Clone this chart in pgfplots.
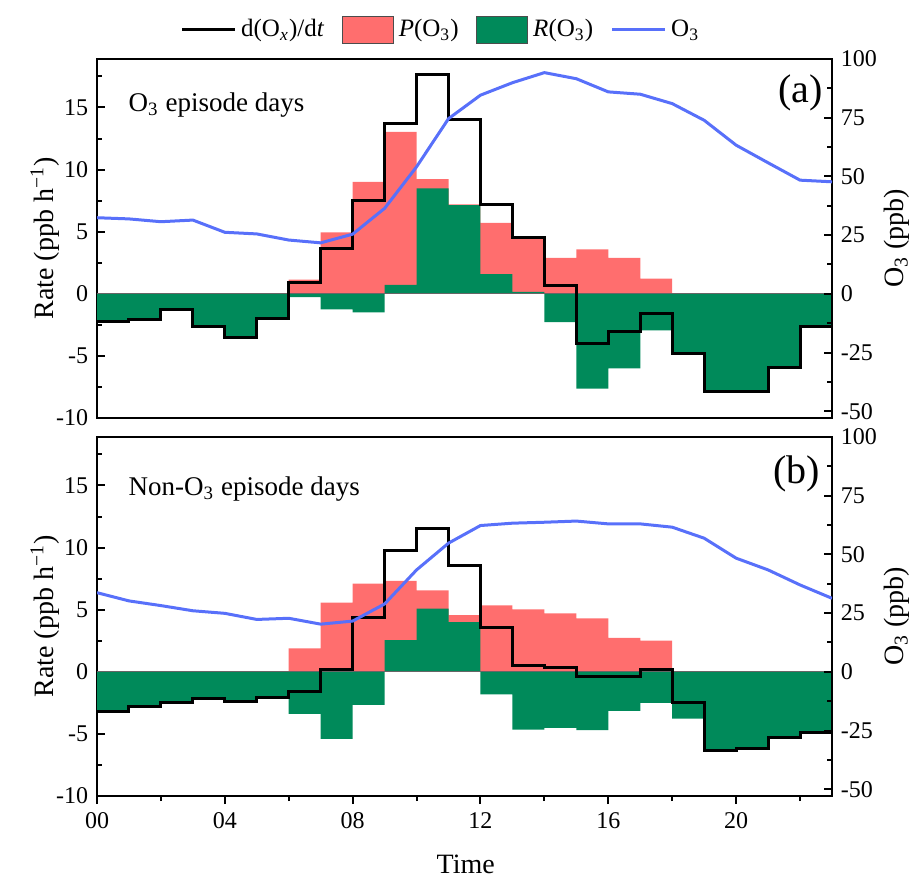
\documentclass[border=0pt]{standalone}
\usepackage{fontspec}
\setmainfont{Liberation Serif}
\usepackage{pgfplots}
\usepackage{pgfplotstable}
\pgfplotsset{compat=1.18}
\definecolor{pred}{RGB}{255,110,110}
\definecolor{rgreen}{RGB}{0,138,90}
\definecolor{oblue}{RGB}{88,112,250}

% h  D(dOx/dt)  P  R  O3   (last row only closes the intervals)
\pgfplotstableread{
h D P R O
0 -2.23 0 -2.23 32.4
1 -2.09 0 -2.09 31.9
2 -1.29 0 -1.29 30.7
3 -2.60 0 -2.60 31.4
4 -3.51 0 -3.51 26.2
5 -1.96 0 -1.96 25.5
6 0.91 1.15 -0.27 22.9
7 3.65 4.95 -1.26 21.7
8 7.49 9.00 -1.50 25.4
9 13.68 13.03 0.72 36.4
10 17.68 9.23 8.48 54.1
11 14.06 7.20 7.13 74.6
12 7.22 5.70 1.58 84.6
13 4.50 4.45 0.15 89.9
14 0.70 2.90 -2.28 94.2
15 -4.02 3.57 -7.64 91.6
16 -3.00 2.90 -6.00 86.0
17 -1.61 1.23 -2.95 85.0
18 -4.83 0 -4.83 81.0
19 -7.83 0 -7.83 73.9
20 -7.83 0 -7.83 63.3
21 -5.90 0 -5.90 55.8
22 -2.60 0 -2.60 48.4
23 -2.60 0 -2.60 47.7
}\dataA

\pgfplotstableread{
h D P R O
0 -3.17 0 -3.17 33.7
1 -2.77 0 -2.77 30.2
2 -2.50 0 -2.50 28.2
3 -2.18 0 -2.18 26.0
4 -2.37 0 -2.37 24.9
5 -2.04 0 -2.04 22.3
6 -1.56 1.88 -3.39 22.8
7 0.19 5.56 -5.40 20.3
8 4.41 7.10 -2.66 21.6
9 9.78 7.31 2.55 28.9
10 11.56 6.56 5.08 43.4
11 8.52 4.57 4.00 54.8
12 3.58 5.35 -1.82 62.3
13 0.48 5.03 -4.65 63.3
14 0.35 4.70 -4.52 63.7
15 -0.35 4.30 -4.70 64.2
16 -0.35 2.74 -3.15 63.0
17 0.19 2.50 -2.50 63.0
18 -2.50 0 -3.76 61.6
19 -6.37 0 -6.37 56.9
20 -6.18 0 -6.18 48.4
21 -5.30 0 -5.30 43.4
22 -4.89 0 -4.89 37.0
23 -4.89 0 -4.89 31.3
}\dataB

\pgfplotsset{
  base/.style={scale only axis, width=294pt, height=143.6pt, xmin=0, xmax=23,
    axis line style={line width=0.8pt},
    every tick/.style={black, line width=0.8pt},
    major tick length=3.2pt, minor tick length=2pt,
    tick label style={font=\fontsize{9.6}{11}\selectfont},
    label style={font=\fontsize{11.2}{13}\selectfont},
    /pgf/number format/assume math mode=true},
  leftax/.style={base, ymin=-10, ymax=18.9,
    ytick={-10,-5,0,5,10,15}, yticklabels={-10,-5,0,5,10,15},
    minor ytick={-7.5,-2.5,2.5,7.5,12.5,17.5},
    ytick pos=left, ytick align=inside,
    ylabel={Rate (ppb h\textsuperscript{−1})},
    ylabel style={at={(axis description cs:-0.071,0.5)}, anchor=center}},
  rightax/.style={base, ymin=-52.9, ymax=100,
    axis y line*=right, hide x axis,
    ytick={-50,-25,0,25,50,75,100}, yticklabels={-50,-25,0,25,50,75,100},
    minor ytick={-37.5,-12.5,12.5,37.5,62.5,87.5},
    ytick align=inside,
    ylabel={O\textsubscript{3} (ppb)},
    ylabel style={at={(axis description cs:1.088,0.5)}, anchor=center}},
}

\begin{document}
\begin{tikzpicture}
% ---------------- panel (a) ----------------
\begin{axis}[leftax, at={(0pt,0pt)}, anchor=north west, xtick=\empty,
  legend style={at={(axis description cs:0.47,1.081)}, anchor=center, draw=none, fill=none,
    font=\fontsize{10}{12}\selectfont, legend columns=4,
    /tikz/every even column/.append style={column sep=5pt}},
  legend cell align=left]
\addlegendimage{legend image code/.code={\draw[black,line width=1.2pt](0pt,0pt)--(21pt,0pt);}}
\addlegendimage{legend image code/.code={\draw[fill=pred,draw=black!70,line width=0.4pt](0pt,-5.4pt) rectangle (20.4pt,5.4pt);}}
\addlegendimage{legend image code/.code={\draw[fill=rgreen,draw=black!70,line width=0.4pt](0pt,-5.4pt) rectangle (20.4pt,5.4pt);}}
\addlegendimage{legend image code/.code={\draw[oblue,line width=1.2pt](0pt,0pt)--(21pt,0pt);}}
\legend{d(O\textsubscript{\textit{x}})/d\textit{t}, \textit{P}(O\textsubscript{3}), \textit{R}(O\textsubscript{3}), O\textsubscript{3}}
\addplot[ybar interval, fill=pred, draw=none] table[x=h, y=P] {\dataA};
\addplot[ybar interval, fill=rgreen, draw=none] table[x=h, y=R] {\dataA};
\addplot[black!60, line width=0.4pt] coordinates {(0,0) (23,0)};
\addplot[const plot, black, line width=1.2pt] table[x=h, y=D] {\dataA};
\node[anchor=west, font=\fontsize{10.8}{13}\selectfont] at (rel axis cs:0.031,0.873) {O\textsubscript{3} episode days};
\node[font=\fontsize{16}{19}\selectfont] at (rel axis cs:0.957,0.907) {(a)};
\end{axis}
\begin{axis}[rightax, at={(0pt,0pt)}, anchor=north west]
\addplot[oblue, line width=1.2pt] table[x=h, y=O] {\dataA};
\end{axis}

% ---------------- panel (b) ----------------
\begin{axis}[leftax, at={(0pt,-151.2pt)}, anchor=north west,
  xtick={0,4,8,12,16,20}, xticklabels={00,04,08,12,16,20},
  minor xtick={2,6,10,14,18,22}, xtick pos=bottom, xtick align=outside,
  xlabel={Time},
  xlabel style={at={(axis description cs:0.5016,-0.189)}, anchor=center}]
\addplot[ybar interval, fill=pred, draw=none] table[x=h, y=P] {\dataB};
\addplot[ybar interval, fill=rgreen, draw=none] table[x=h, y=R] {\dataB};
\addplot[black!60, line width=0.4pt] coordinates {(0,0) (23,0)};
\addplot[const plot, black, line width=1.2pt] table[x=h, y=D] {\dataB};
\node[anchor=west, font=\fontsize{10.8}{13}\selectfont] at (rel axis cs:0.031,0.856) {Non-O\textsubscript{3} episode days};
\node[font=\fontsize{16}{19}\selectfont] at (rel axis cs:0.952,0.898) {(b)};
\end{axis}
\begin{axis}[rightax, at={(0pt,-151.2pt)}, anchor=north west]
\addplot[oblue, line width=1.2pt] table[x=h, y=O] {\dataB};
\end{axis}

\pgfresetboundingbox
\path[use as bounding box] (-38.8pt,23.6pt) rectangle (327.6pt,-327.6pt);
\end{tikzpicture}
\end{document}
